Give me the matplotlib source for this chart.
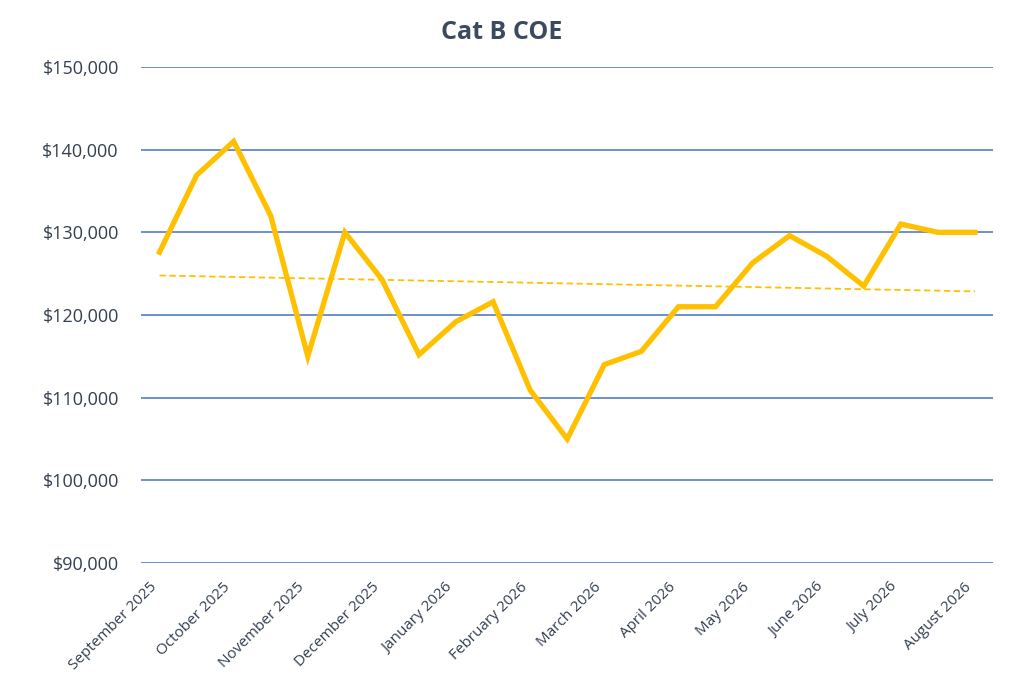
#!/usr/bin/env python3
"""
Line chart of Cat B COE prices by bidding exercise with a linear trendline.
"""
import matplotlib
matplotlib.use("Agg")
import matplotlib.pyplot as plt
import numpy as np
from matplotlib.ticker import FuncFormatter
from matplotlib.transforms import ScaledTranslation

# two bidding exercises per month, Sep 2025 .. Aug 2026
coe_prices = [127600, 136900, 141000, 132000, 115000, 130000, 124300, 115200,
              119200, 121600, 110900, 105000, 114000, 115600, 121000, 121000,
              126300, 129600, 127100, 123500, 131000, 130000, 130000]
month_labels = ["September 2025", "October 2025", "November 2025",
                "December 2025", "January 2026", "February 2026",
                "March 2026", "April 2026", "May 2026", "June 2026",
                "July 2026", "August 2026"]
y_ticks = [90000, 100000, 110000, 120000, 130000, 140000, 150000]

TEXT = "#333F50"
GOLD = "#FFC000"
GRID = "#4472C4"

plt.rcParams['font.family'] = ['Open Sans', 'DejaVu Sans']

fig = plt.figure(figsize=(10.24, 6.83), dpi=100)
ax = fig.add_axes([0.1377, 0.1757, 0.8325, 0.7262])

x = np.arange(len(coe_prices))
ax.plot(x, coe_prices, color=GOLD, lw=3.8, solid_joinstyle='miter', zorder=3)

# linear trendline like Excel's
slope, intercept = np.polyfit(x, coe_prices, 1)
ax.plot(x, slope * x + intercept, color=GOLD, lw=1.3,
        linestyle=(0, (3.5, 2)), zorder=2)

ax.set_xlim(-0.5, len(coe_prices) - 0.5)
ax.set_ylim(y_ticks[0], y_ticks[-1])
ax.set_yticks(y_ticks)
ax.yaxis.set_major_formatter(FuncFormatter(lambda v, _: f"${v:,.0f}"))
ax.set_xticks(x[::2])
ax.set_xticklabels(month_labels, rotation=45, ha='right')

# nudge rotated labels a little to the right, as in the original
shift = ScaledTranslation(6 / 72, 0, fig.dpi_scale_trans)
for lbl in ax.get_xticklabels():
    lbl.set_transform(lbl.get_transform() + shift)

ax.grid(axis='y', color=GRID, lw=1.1)
ax.set_axisbelow(True)
for spine in ax.spines.values():
    spine.set_visible(False)
ax.tick_params(axis='y', length=0, pad=16, labelsize=13, labelcolor=TEXT)
ax.tick_params(axis='x', length=0, pad=12, labelsize=11, labelcolor=TEXT)

fig.text(0.49, 0.953, "Cat B COE", ha='center', va='center',
         fontsize=18, fontweight='bold', color="#3B4A5E")

fig.savefig("out.png", dpi=100)
